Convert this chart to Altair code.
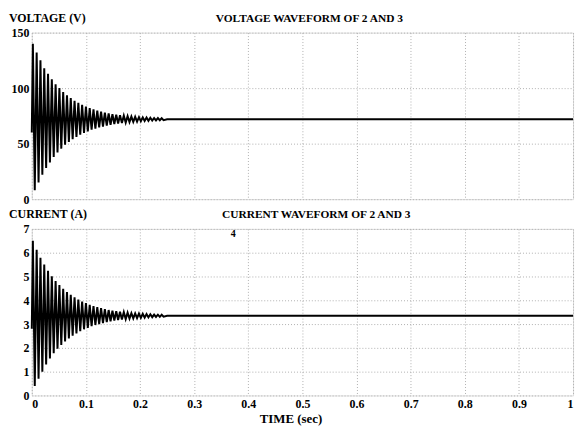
import altair as alt
import pandas as pd

# Peak / trough times (s) of the decaying oscillation
peak_t = [0.002, 0.009, 0.016, 0.023, 0.030, 0.037, 0.044, 0.051, 0.058, 0.065,
          0.072, 0.079, 0.086, 0.093, 0.100, 0.107, 0.114, 0.121, 0.128, 0.135,
          0.142, 0.149, 0.156, 0.163, 0.170, 0.177, 0.184, 0.191, 0.198, 0.205,
          0.212, 0.219, 0.226, 0.233, 0.240]
trough_t = [0.0055, 0.0125, 0.0195, 0.0265, 0.0335, 0.0405, 0.0475, 0.0545, 0.0615, 0.0685,
            0.0755, 0.0825, 0.0895, 0.0965, 0.1035, 0.1105, 0.1175, 0.1245, 0.1315, 0.1385,
            0.1455, 0.1525, 0.1595, 0.1665, 0.1735, 0.1805, 0.1875, 0.1945, 0.2015, 0.2085,
            0.2155, 0.2225, 0.2295, 0.2365, 0.2435]

v_upper = [140, 132, 125, 118, 113, 108, 103.5, 100, 96.4, 93.6, 91, 88.6, 86.7, 85, 83.4,
           82, 80.9, 79.8, 78.9, 78, 77.2, 76.5, 76.1, 75.7, 75.2, 74.8, 74.4, 74.2, 73.9,
           73.7, 73.5, 73.3, 73.1, 73.0, 72.9]
v_lower = [8, 15, 22, 28, 33, 38, 42, 45.5, 49, 51.5, 54, 56, 58, 59.6, 61, 62.5, 63.5,
           64.6, 65.4, 66.3, 67, 67.7, 68.1, 68.5, 69, 69.4, 69.7, 69.9, 70.2, 70.4, 70.6,
           70.8, 71, 71.1, 71.2]
v_start = 60
v_steady = 72

i_upper = [6.5, 6.12, 5.79, 5.5, 5.24, 5.01, 4.81, 4.64, 4.48, 4.35, 4.23, 4.12, 4.03, 3.95,
           3.88, 3.81, 3.76, 3.71, 3.67, 3.63, 3.59, 3.56, 3.54, 3.52, 3.5, 3.48, 3.46, 3.45,
           3.44, 3.43, 3.42, 3.41, 3.40, 3.395, 3.39]
i_lower = [0.4, 0.7, 1.0, 1.3, 1.55, 1.77, 1.96, 2.12, 2.27, 2.4, 2.51, 2.61, 2.7, 2.78,
           2.84, 2.91, 2.96, 3.0, 3.04, 3.08, 3.12, 3.15, 3.17, 3.19, 3.21, 3.23, 3.24, 3.25,
           3.26, 3.27, 3.28, 3.29, 3.3, 3.305, 3.31]
i_start = 2.8
i_steady = 3.35

end_t = [0.25, 1.0]

x_ticks = [0, 0.1, 0.2, 0.3, 0.4, 0.5, 0.6, 0.7, 0.8, 0.9, 1]
v_ticks = [0, 50, 100, 150]
i_ticks = [0, 1, 2, 3, 4, 5, 6, 7]

stray_label = {"t": 0.372, "y": 7.0, "text": "4"}


def build(upper, lower, start, steady):
    rows = [{"t": 0.0, "y": start}]
    for tp, u, tt, lo in zip(peak_t, upper, trough_t, lower):
        rows.append({"t": tp, "y": u})
        rows.append({"t": tt, "y": lo})
    for te in end_t:
        rows.append({"t": te, "y": steady})
    return pd.DataFrame(rows)


FONT = "Liberation Serif"

dv = build(v_upper, v_lower, v_start, v_steady)
di = build(i_upper, i_lower, i_start, i_steady)

W, H = 546, 168


def panel(df, ymax, yticks, ytitle, title, title_dx, show_x):
    xaxis = alt.Axis(values=x_ticks, grid=True, gridDash=[1, 2], gridColor="#b0b0b0",
                     ticks=False, domain=False, labels=show_x, format="~g",
                     labelFont=FONT, labelFontWeight="bold", labelFontSize=12,
                     labelColor="black", labelPadding=3, labelOverlap=False,
                     labelFlush=True,
                     title="TIME (sec)" if show_x else None,
                     titleFont=FONT, titleFontWeight="bold", titleFontSize=13,
                     titleColor="black", titlePadding=3, titleX=W / 2 - 12)
    yaxis = alt.Axis(values=yticks, grid=True, gridDash=[1, 2], gridColor="#b0b0b0",
                     ticks=False, domain=False, labelFont=FONT, labelFontWeight="bold",
                     labelFontSize=12, labelColor="black", labelPadding=3,
                     labelOverlap=False, title=None)
    xs = alt.Scale(domain=[0, 1], nice=False)
    ys = alt.Scale(domain=[0, ymax], nice=False)
    line = alt.Chart(df).mark_line(color="black", strokeWidth=2).encode(
        x=alt.X("t:Q", scale=xs, axis=xaxis),
        y=alt.Y("y:Q", scale=ys, axis=yaxis),
    )
    ylab = alt.Chart(pd.DataFrame([{"text": ytitle}])).mark_text(
        font=FONT, fontWeight="bold", fontSize=12, color="black",
        align="left", baseline="alphabetic"
    ).encode(x=alt.value(-23), y=alt.value(-11), text="text:N")
    ttl = alt.Chart(pd.DataFrame([{"text": title}])).mark_text(
        font=FONT, fontWeight="bold", fontSize=11.5, color="black",
        align="center", baseline="alphabetic"
    ).encode(x=alt.value(W / 2 + title_dx), y=alt.value(-11), text="text:N")
    layers = [line, ylab, ttl]
    if show_x:
        txt = alt.Chart(pd.DataFrame([stray_label])).mark_text(
            font=FONT, fontWeight="bold", fontSize=10, color="black", baseline="top"
        ).encode(x=alt.X("t:Q", scale=xs, axis=xaxis),
                 y=alt.Y("y:Q", scale=ys, axis=yaxis), text="text:N")
        layers.append(txt)
    return alt.layer(*layers).properties(width=W, height=H)


top = panel(dv, 150, v_ticks, "VOLTAGE (V)", "VOLTAGE WAVEFORM OF 2 AND 3", 7, False)
bot = panel(di, 7, i_ticks, "CURRENT (A)", "CURRENT WAVEFORM OF 2 AND 3", 14, True)

chart = alt.vconcat(top, bot, spacing=1).properties(
    padding={"left": 0, "top": 1, "right": 0, "bottom": 0}
).configure_view(stroke="#8a8a8a", strokeWidth=1).configure(background="white")

chart.save("out.html", embed_options={"renderer": "svg", "actions": False})
